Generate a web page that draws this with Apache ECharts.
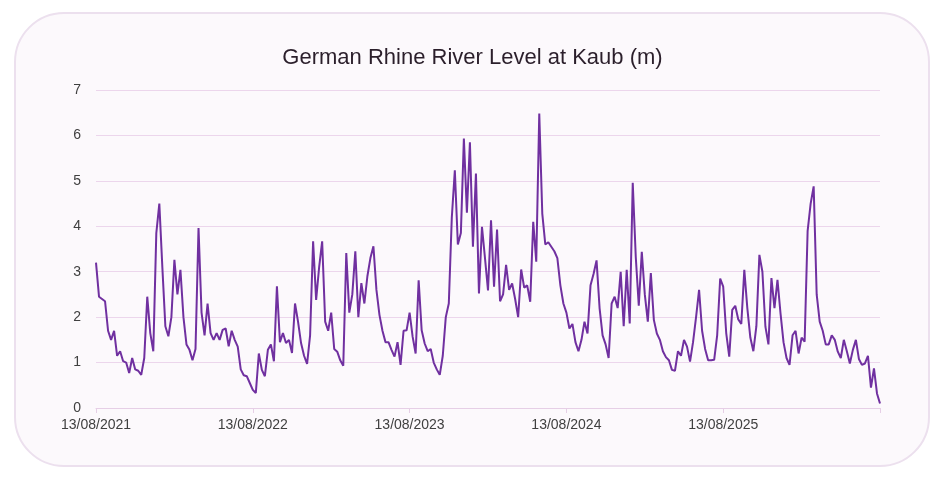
<!DOCTYPE html>
<html>
<head>
<meta charset="utf-8">
<script src="https://cdn.jsdelivr.net/npm/echarts@6/dist/echarts.min.js"></script>
<style>
  html, body { margin: 0; padding: 0; background: #ffffff; }
  #card {
    position: absolute; left: 14px; top: 12px; width: 912px; height: 451px;
    border: 2px solid #ece0ee; border-radius: 50px; background: #fcf9fc;
  }
  #chart { position: absolute; left: 0; top: 0; width: 945px; height: 484px; }
</style>
</head>
<body>
<div id="card"></div>
<div id="chart"></div>
<script>
// roughly weekly readings, 52 per year from 13/08/2021
const pointsPerYear = 52;
const tickLabels = ["13/08/2021", "13/08/2022", "13/08/2023", "13/08/2024", "13/08/2025", ""];
const levels = [
  3.2, 2.45, 2.4, 2.35, 1.7, 1.5, 1.7, 1.15, 1.25, 1.03, 1.0, 0.77, 1.1, 0.85, 0.82, 0.73, 1.1,
  2.45, 1.65, 1.25, 3.85, 4.5, 3.1, 1.8, 1.58, 2.0, 3.26, 2.5, 3.04, 2.0, 1.4, 1.28, 1.05,
  1.3, 3.96, 2.1, 1.6, 2.3, 1.65, 1.5, 1.65, 1.5, 1.72, 1.75, 1.36, 1.7, 1.5, 1.35, 0.85,
  0.72, 0.7, 0.55, 0.4, 0.33, 1.2, 0.84, 0.7, 1.28, 1.4, 1.03, 2.68, 1.45, 1.65, 1.43, 1.5, 1.21,
  2.3, 1.9, 1.43, 1.15, 0.97, 1.6, 3.67, 2.38, 3.1, 3.67, 1.9, 1.7, 2.1, 1.3, 1.24, 1.05, 0.93,
  3.41, 2.1, 2.5, 3.45, 2.0, 2.75, 2.3, 2.9, 3.3, 3.56, 2.6, 2.05, 1.7, 1.45, 1.45, 1.28,
  1.13, 1.45, 0.95, 1.7, 1.71, 2.1, 1.57, 1.2, 2.81, 1.71, 1.42, 1.25, 1.3, 1.0, 0.85, 0.73,
  1.15, 2.0, 2.3, 4.2, 5.23, 3.6, 3.85, 5.93, 4.3, 5.85, 3.55, 5.16, 2.52, 3.99, 3.3, 2.59, 4.13,
  2.67, 3.93, 2.35, 2.5, 3.15, 2.6, 2.74, 2.4, 2.0, 3.05, 2.65, 2.7, 2.34, 4.1, 3.22, 6.48,
  4.28, 3.6, 3.65, 3.55, 3.45, 3.3, 2.7, 2.3, 2.1, 1.75, 1.85, 1.45, 1.25, 1.5, 1.9, 1.64,
  2.7, 2.95, 3.25, 2.2, 1.6, 1.4, 1.1, 2.3, 2.45, 2.2, 3.0, 1.8, 3.04, 1.86, 4.96, 3.33, 2.25,
  3.44, 2.5, 1.9, 2.97, 1.94, 1.64, 1.5, 1.25, 1.12, 1.05, 0.84, 0.82, 1.25, 1.15, 1.5, 1.35,
  1.02, 1.45, 2.0, 2.6, 1.7, 1.3, 1.05, 1.05, 1.06, 1.6, 2.85, 2.67, 1.65, 1.13, 2.16, 2.25, 1.95,
  1.85, 3.04, 2.2, 1.55, 1.25, 1.8, 3.37, 3.0, 1.79, 1.4, 2.86, 2.2, 2.82, 2.09, 1.45, 1.1,
  0.95, 1.6, 1.7, 1.2, 1.55, 1.46, 3.9, 4.5, 4.88, 2.5, 1.9, 1.7, 1.4, 1.4, 1.6, 1.5, 1.24,
  1.1, 1.5, 1.25, 0.98, 1.28, 1.5, 1.08, 0.95, 0.98, 1.15, 0.45, 0.87, 0.32, 0.1
];
const weeks = levels.map((v, i) => i);

const chart = echarts.init(document.getElementById("chart"));
const isYearTick = (index) => index % pointsPerYear === 0;
const option = {
  animation: false,
  textStyle: { fontFamily: "Liberation Sans, Arial, sans-serif" },
  title: {
    text: "German Rhine River Level at Kaub (m)",
    left: "center",
    top: 42,
    textStyle: { fontSize: 22, fontWeight: "normal", color: "#2b1f2b" },
  },
  grid: { left: 96, right: 65, top: 90, bottom: 76 },
  xAxis: {
    type: "category",
    data: weeks,
    boundaryGap: false,
    axisLine: { lineStyle: { color: "#e6cfe6", width: 1 } },
    axisTick: { interval: isYearTick, length: 5, lineStyle: { color: "#e6cfe6" } },
    axisLabel: {
      interval: isYearTick,
      color: "#404040",
      fontSize: 14,
      margin: 10,
      formatter: (value, index) => tickLabels[index / pointsPerYear] || "",
    },
  },
  yAxis: {
    type: "value",
    min: 0,
    max: 7,
    interval: 1,
    axisLine: { show: false },
    axisTick: { show: false },
    axisLabel: { color: "#404040", fontSize: 14, margin: 15 },
    splitLine: { lineStyle: { color: "#ecd6ec", width: 1 } },
  },
  series: [
    {
      name: "Kaub",
      type: "line",
      data: levels,
      symbol: "none",
      lineStyle: { color: "#7030a0", width: 2 },
    },
  ],
};
chart.setOption(option);
</script>
</body>
</html>
